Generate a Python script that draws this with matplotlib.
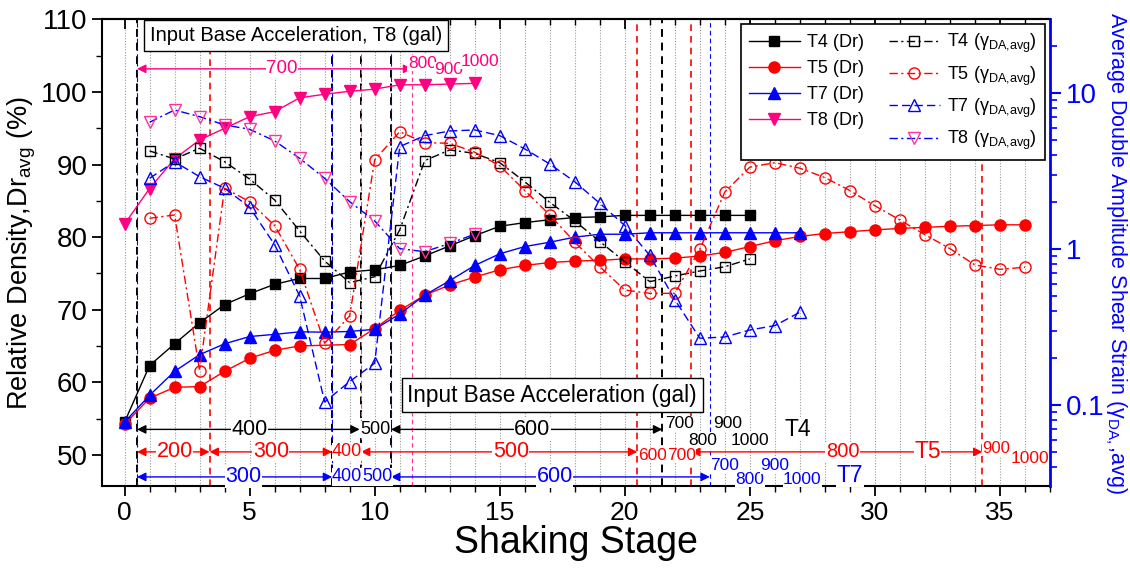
import numpy as np
import matplotlib
matplotlib.use("Agg")
import matplotlib.pyplot as plt
from matplotlib.ticker import MultipleLocator, LogLocator, NullFormatter, FuncFormatter

plt.rcParams['font.family'] = ['Liberation Sans', 'DejaVu Sans']
plt.rcParams['mathtext.fontset'] = 'custom'
plt.rcParams['mathtext.rm'] = 'Liberation Sans'
plt.rcParams['mathtext.it'] = 'Liberation Sans:italic'

# relative density (left axis, %)
t4_stage = list(range(0, 26))
t4_dr = [54.5, 62.3, 65.3, 68.2, 70.7, 72.2, 73.5, 74.3, 74.3, 75.2, 75.5, 76.1, 77.4,
         78.8, 80.2, 81.5, 82.0, 82.4, 82.7, 82.8, 83.0, 83.0, 83.0, 83.0, 83.0, 83.0]
t5_stage = [0, 1, 2, 3, 4, 5, 6, 7] + list(range(9, 37))
t5_dr = [54.2, 57.8, 59.3, 59.4, 61.5, 63.3, 64.4, 65.0, 65.2, 67.4, 69.9, 72.0, 73.4,
         74.5, 75.5, 76.1, 76.5, 76.7, 76.8, 77.0, 77.0, 77.1, 77.4, 77.9, 78.7, 79.5,
         80.1, 80.5, 80.75, 81.0, 81.2, 81.35, 81.5, 81.6, 81.7, 81.7]
t7_stage = list(range(0, 28))
t7_dr = [54.5, 58.2, 61.5, 63.8, 65.3, 66.3, 66.6, 66.95, 66.9, 67.0, 67.3, 69.4, 72.0,
         74.0, 76.1, 77.7, 78.7, 79.3, 80.0, 80.4, 80.4, 80.6, 80.6, 80.6, 80.6, 80.6,
         80.6, 80.6]
t8_stage = list(range(0, 15))
t8_dr = [81.8, 86.7, 90.8, 93.4, 95.0, 96.6, 97.3, 99.2, 99.7, 100.1, 100.4, 101.0,
         101.0, 101.1, 101.2]

# average double amplitude shear strain (right axis, log)
t4_gstage = list(range(1, 26))
t4_gam = [4.27, 3.79, 4.44, 3.64, 2.82, 2.07, 1.31, 0.841, 0.611, 0.667, 1.33, 3.70,
          4.33, 4.12, 3.59, 2.71, 2.00, 1.52, 1.12, 0.833, 0.620, 0.674, 0.726, 0.773, 0.867]
t5_gstage = list(range(1, 37))
t5_gam = [1.58, 1.66, 0.167, 2.46, 2.02, 1.42, 0.744, 0.250, 0.374, 3.74, 5.67, 4.82,
          4.78, 4.19, 3.43, 2.38, 1.66, 1.11, 0.773, 0.548, 0.522, 0.522, 1.0, 2.33,
          3.36, 3.59, 3.31, 2.88, 2.38, 1.90, 1.54, 1.24, 1.01, 0.793, 0.744, 0.767]
t7_gstage = list(range(1, 28))
t7_gam = [2.85, 3.64, 2.92, 2.46, 1.86, 1.07, 0.502, 0.105, 0.142, 0.186, 4.55, 5.35,
          5.73, 5.82, 5.35, 4.40, 3.52, 2.71, 1.97, 1.42, 0.913, 0.475, 0.269, 0.274,
          0.304, 0.324, 0.395]
t8_gstage = list(range(1, 15))
t8_gam = [6.52, 7.81, 7.08, 6.26, 5.88, 4.95, 3.83, 2.85, 2.02, 1.52, 1.01, 0.965, 1.09, 1.25]

# stage boundaries where input acceleration changes
t4_bounds = [0.5, 8.3, 9.45, 10.65, 21.5]
t5_bounds = [3.4, 20.5, 22.65, 34.3]
t7_bounds = [0.5, 8.3, 10.65, 23.4]
t8_bounds = [9.45, 11.5]

# acceleration labels: (text, stage, Dr level, fontsize)
t4_arrows = [(0.5, 9.4), (10.65, 21.5)]
t4_labels = [('400', 5.0, 53.5, 15.5), ('500', 10.05, 53.5, 13), ('600', 16.3, 53.5, 15.5),
             ('700', 22.2, 54.3, 12.5), ('800', 23.1, 52.0, 12.5), ('900', 24.1, 54.3, 12.5),
             ('1000', 25.0, 52.0, 12.5), ('T4', 26.9, 53.5, 16.5)]
t5_arrows = [(0.5, 3.4), (3.4, 8.3), (9.45, 20.5), (22.65, 34.3)]
t5_labels = [('200', 2.0, 50.4, 15.5), ('300', 5.85, 50.4, 15.5), ('400', 8.9, 50.4, 13),
             ('500', 15.45, 50.4, 15.5), ('600', 21.1, 49.9, 12.5), ('700', 22.25, 49.9, 12.5),
             ('800', 28.7, 50.4, 14.5), ('T5', 32.1, 50.4, 16.5), ('900', 34.85, 50.9, 12),
             ('1000', 36.2, 49.5, 12.5)]
t7_arrows = [(0.5, 8.3), (10.65, 23.4)]
t7_labels = [('300', 4.75, 46.95, 15.5), ('400', 8.9, 46.95, 13), ('500', 10.1, 46.95, 13),
             ('600', 17.2, 46.95, 15.5), ('700', 24.0, 48.5, 12.5), ('800', 25.0, 46.6, 12.5),
             ('900', 26.0, 48.5, 12.5), ('1000', 27.1, 46.6, 12.5), ('T7', 29.0, 47.2, 16.5)]
t8_arrows = [(0.5, 11.5)]
t8_labels = [('700', 6.3, 103.2, 13.5), ('800', 11.9, 104.0, 12.5), ('900', 12.95, 103.05, 12.5),
             ('1000', 14.2, 104.2, 12.5)]

RED = '#FF0000'
BLUE = '#0000FF'
PINK = '#FF0080'
PINK2 = '#FF3399'

fig = plt.figure(figsize=(11.3, 5.7), dpi=100)
ax = fig.add_axes([0.0903, 0.1474, 0.8389, 0.8184])
ax2 = ax.twinx()

ax.set_xlim(-0.9, 37.0)
ax.set_ylim(45.7, 110)
ax2.set_yscale('log')
ax2.set_ylim(0.0304, 29.7)

# stage grid
for s in range(0, 37):
    ax.axvline(s, color='#9a9a9a', lw=0.8, ls=(0, (1, 1.5)), zorder=0)

dash = (0, (4, 3))
for b in t5_bounds:
    ax.axvline(b, color=RED, lw=1.2, ls=dash, zorder=1)
for b in t4_bounds:
    ax.axvline(b, color='black', lw=1.4, ls=dash, zorder=1)
for b in t7_bounds:
    ax.axvline(b, color=BLUE, lw=0.8, ls=dash, zorder=1.1)
for b in t8_bounds:
    ax.axvline(b, color=PINK2, lw=0.8, ls=dash, zorder=1.1)

def draw_row(arrows, labels, color):
    for x0, x1 in arrows:
        y = labels[0][2]
        ax.annotate('', xy=(x1, y), xytext=(x0, y),
                    arrowprops=dict(arrowstyle='<|-|>', color=color, lw=1.0,
                                    shrinkA=0, shrinkB=0, mutation_scale=13), zorder=3)
    for txt, x, y, fs in labels:
        ax.text(x, y, txt, color=color, fontsize=fs, ha='center', va='center', zorder=4,
                bbox=dict(fc='white', ec='none', pad=0.3))

draw_row(t4_arrows, t4_labels, 'black')
draw_row(t5_arrows, t5_labels, RED)
draw_row(t7_arrows, t7_labels, BLUE)
draw_row(t8_arrows, t8_labels, PINK)

ax.text(6.85, 107.75, 'Input Base Acceleration, T8 (gal)', fontsize=14.5, ha='center', va='center',
        zorder=5, bbox=dict(boxstyle='square,pad=0.3', fc='white', ec='black', lw=1))
ax.text(17.1, 58.2, 'Input Base Acceleration (gal)', fontsize=16.3, ha='center', va='center',
        zorder=5, bbox=dict(boxstyle='square,pad=0.25', fc='white', ec='black', lw=1))

# Dr series
l1, = ax.plot(t4_stage, t4_dr, '-', color='black', lw=1, marker='s', ms=6.5, zorder=6)
l2, = ax.plot(t5_stage, t5_dr, '-', color=RED, lw=1, marker='o', ms=8, zorder=6)
l3, = ax.plot(t7_stage, t7_dr, '-', color=BLUE, lw=1, marker='^', ms=8.5, zorder=6)
l4, = ax.plot(t8_stage, t8_dr, '-', color=PINK, lw=1, marker='v', ms=8.5, zorder=6)

# strain series
dd = (0, (6, 2.5, 1.5, 2.5))
g1, = ax2.plot(t4_gstage, t4_gam, color='black', lw=1, ls=dd, marker='s', ms=6.5, mfc='none', mew=1)
g2, = ax2.plot(t5_gstage, t5_gam, color=RED, lw=1, ls=dd, marker='o', ms=8, mfc='none', mew=1)
g3, = ax2.plot(t7_gstage, t7_gam, color=BLUE, lw=1, ls=(0, (6, 3)), marker='^', ms=8.5, mfc='none', mew=1)
g4, = ax2.plot(t8_gstage, t8_gam, color=BLUE, lw=1, ls=dd, marker='v', ms=8.5, mfc='none',
               mec=PINK2, mew=1)

# axes styling
ax.xaxis.set_major_locator(MultipleLocator(5))
ax.xaxis.set_minor_locator(MultipleLocator(1))
ax.yaxis.set_major_locator(MultipleLocator(10))
ax.yaxis.set_minor_locator(MultipleLocator(5))
ax.tick_params(axis='both', which='major', direction='out', length=7, width=1.3, labelsize=19)
ax.tick_params(axis='both', which='minor', direction='out', length=4, width=1.0)
ax.tick_params(axis='y', labelsize=20)
for sp in ['left', 'bottom', 'top']:
    ax.spines[sp].set_linewidth(1.5)
ax.spines['right'].set_visible(False)

top = ax.secondary_xaxis('top')
top.xaxis.set_major_locator(MultipleLocator(5))
top.xaxis.set_minor_locator(MultipleLocator(1))
top.tick_params(which='major', direction='in', length=7, width=1.3, labeltop=False)
top.tick_params(which='minor', direction='in', length=4, width=1.0)
top.spines['top'].set_linewidth(1.5)

ax2.yaxis.set_major_locator(LogLocator(base=10))
ax2.yaxis.set_minor_locator(LogLocator(base=10, subs=np.arange(2, 10)))
ax2.yaxis.set_major_formatter(FuncFormatter(lambda v, p: '{:g}'.format(v)))
ax2.yaxis.set_minor_formatter(NullFormatter())
ax2.tick_params(axis='y', which='major', direction='out', length=8, width=1.5, colors=BLUE, labelsize=20)
ax2.tick_params(axis='y', which='minor', direction='out', length=5, width=1.2, colors=BLUE)
ax2.spines['right'].set_color(BLUE)
ax2.spines['right'].set_linewidth(2)
for sp in ['left', 'top', 'bottom']:
    ax2.spines[sp].set_visible(False)

ax.set_xlabel('Shaking Stage', fontsize=27, labelpad=0)
ax.set_ylabel('Relative Density,Dr$_{\\mathrm{avg}}$ (%)', fontsize=19.5, labelpad=2)
ax2.set_ylabel('Average Double Amplitude Shear Strain (γ$_{\\mathrm{DA,}}$,avg)', fontsize=15.5,
               color=BLUE, rotation=270, va='bottom', labelpad=-1)

handles = [l1, l2, l3, l4, g1, g2, g3, g4]
labels = ['T4 (Dr)', 'T5 (Dr)', 'T7 (Dr)', 'T8 (Dr)',
          'T4 (γ$_{\\mathrm{DA{,}avg}}$)', 'T5 (γ$_{\\mathrm{DA{,}avg}}$)',
          'T7 (γ$_{\\mathrm{DA{,}avg}}$)', 'T8 (γ$_{\\mathrm{DA{,}avg}}$)']
leg = ax2.legend(handles, labels, ncol=2, loc='upper right', bbox_to_anchor=(0.9947, 0.9904),
                 borderaxespad=0, fontsize=13, frameon=True, fancybox=False, edgecolor='black',
                 framealpha=1, handlelength=2.8, columnspacing=1.4, labelspacing=0.5,
                 borderpad=0.45, handletextpad=0.4)
leg.get_frame().set_linewidth(1.2)
leg.set_zorder(20)

fig.savefig('out.png', dpi=100)
